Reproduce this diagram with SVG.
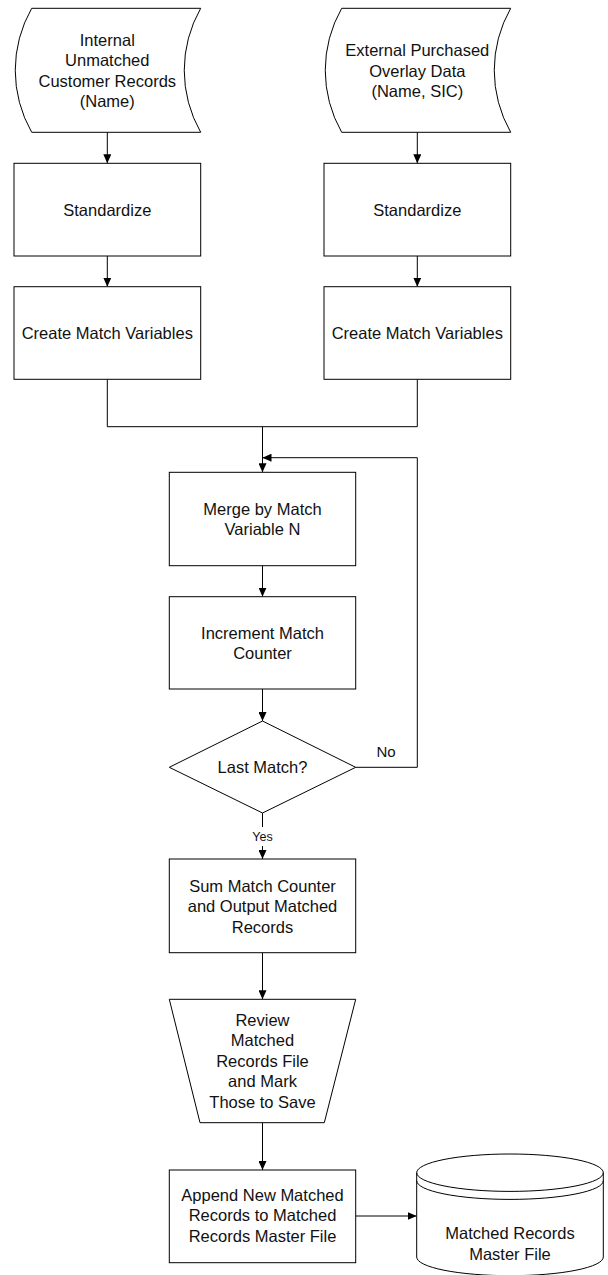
<svg xmlns="http://www.w3.org/2000/svg" width="608" height="1275" viewBox="0 0 608 1275">
<defs>
<marker id="ah" viewBox="0 0 9 8" refX="9" refY="4" markerWidth="9" markerHeight="8" markerUnits="userSpaceOnUse" orient="auto">
<path d="M0,0 L9,4 L0,8 z" fill="#000"/>
</marker>
<style>
.s{fill:#fff;stroke:#000;stroke-width:1}
.c{fill:none;stroke:#000;stroke-width:1}
.a{marker-end:url(#ah)}
text{font-family:"Liberation Sans",Arial,sans-serif;font-size:16.5px;fill:#111;text-anchor:middle}
.sm{font-size:12.5px}
.no{font-size:15px}
</style>
</defs>
<rect width="608" height="1275" fill="#fff"/>
<g id="connectors">
<path class="c a" d="M107.3,132.3 V163.3"/>
<path class="c a" d="M417.3,132.3 V163.3"/>
<path class="c a" d="M107.3,256 V286.7"/>
<path class="c a" d="M417.3,256 V286.7"/>
<path class="c" d="M107.3,379.3 V426.7 H417.3 V379.3"/>
<path class="c a" d="M262.5,426.7 V472.3"/>
<path class="c a" d="M355.7,767.3 H417.3 V457.7 H262.5"/>
<path class="c a" d="M262.5,565.7 V596.7"/>
<path class="c a" d="M262.5,689 V721"/>
<path class="c a" d="M262.5,813 V827 M262.5,846 V859"/>
<path class="c a" d="M262.5,952.7 V999.3"/>
<path class="c a" d="M262.5,1122.7 V1170"/>
<path class="c a" d="M355.7,1216 H416.7"/>
<text class="no" x="386" y="757">No</text>
<text class="sm" x="262.5" y="841">Yes</text>
</g>
<g id="internal">
<path class="s" d="M31.7,8.3 H200.7 A125,125 0 0 0 200.7,132.3 H31.7 A125,125 0 0 1 31.7,8.3 Z"/>
<text x="107.3" y="46">Internal</text>
<text x="107.3" y="66.4">Unmatched</text>
<text x="107.3" y="86.8">Customer Records</text>
<text x="107.3" y="107.2">(Name)</text>
</g>
<g id="external">
<path class="s" d="M341.7,8.3 H510.7 A125,125 0 0 0 510.7,132.3 H341.7 A125,125 0 0 1 341.7,8.3 Z"/>
<text x="417.3" y="56.4">External Purchased</text>
<text x="417.3" y="76.8">Overlay Data</text>
<text x="417.3" y="97.2">(Name, SIC)</text>
</g>
<g id="std1">
<rect class="s" x="14" y="163.3" width="186.7" height="92.7"/>
<text x="107.3" y="215.7">Standardize</text>
</g>
<g id="std2">
<rect class="s" x="324" y="163.3" width="186.7" height="92.7"/>
<text x="417.3" y="215.7">Standardize</text>
</g>
<g id="cmv1">
<rect class="s" x="14" y="286.7" width="186.7" height="92.6"/>
<text x="107.3" y="339">Create Match Variables</text>
</g>
<g id="cmv2">
<rect class="s" x="324" y="286.7" width="186.7" height="92.6"/>
<text x="417.3" y="339">Create Match Variables</text>
</g>
<g id="merge">
<rect class="s" x="169.3" y="472.3" width="186.4" height="93.4"/>
<text x="262.5" y="515">Merge by Match</text>
<text x="262.5" y="535.4">Variable N</text>
</g>
<g id="increment">
<rect class="s" x="169.3" y="596.7" width="186.4" height="92.3"/>
<text x="262.5" y="638.6">Increment Match</text>
<text x="262.5" y="659">Counter</text>
</g>
<g id="decision">
<path class="s" d="M262.5,721 L355.7,767.3 L262.5,813 L169.3,767.3 Z"/>
<text x="262.5" y="773">Last Match?</text>
</g>
<g id="sum">
<rect class="s" x="169.3" y="859" width="186.4" height="93.7"/>
<text x="262.5" y="891.8">Sum Match Counter</text>
<text x="262.5" y="912.2">and Output Matched</text>
<text x="262.5" y="932.6">Records</text>
</g>
<g id="review">
<path class="s" d="M169.3,999.3 H355.7 L324.3,1122.7 H200 Z"/>
<text x="262.5" y="1025.5">Review</text>
<text x="262.5" y="1046">Matched</text>
<text x="262.5" y="1066.5">Records File</text>
<text x="262.5" y="1087">and Mark</text>
<text x="262.5" y="1107.5">Those to Save</text>
</g>
<g id="append">
<rect class="s" x="169.3" y="1170" width="186.4" height="92.7"/>
<text x="262.5" y="1201">Append New Matched</text>
<text x="262.5" y="1221.4">Records to Matched</text>
<text x="262.5" y="1241.8">Records Master File</text>
</g>
<g id="master">
<path class="s" d="M416.7,1172.7 A93.3,18.7 0 0 1 603.3,1172.7 V1257 A93.3,18.7 0 0 1 416.7,1257 Z"/>
<path class="c" d="M416.7,1172.7 A93.3,18.7 0 0 0 603.3,1172.7 M416.7,1180.7 A93.3,18.7 0 0 0 603.3,1180.7"/>
<text x="510" y="1239.3">Matched Records</text>
<text x="510" y="1259.5">Master File</text>
</g>
</svg>
